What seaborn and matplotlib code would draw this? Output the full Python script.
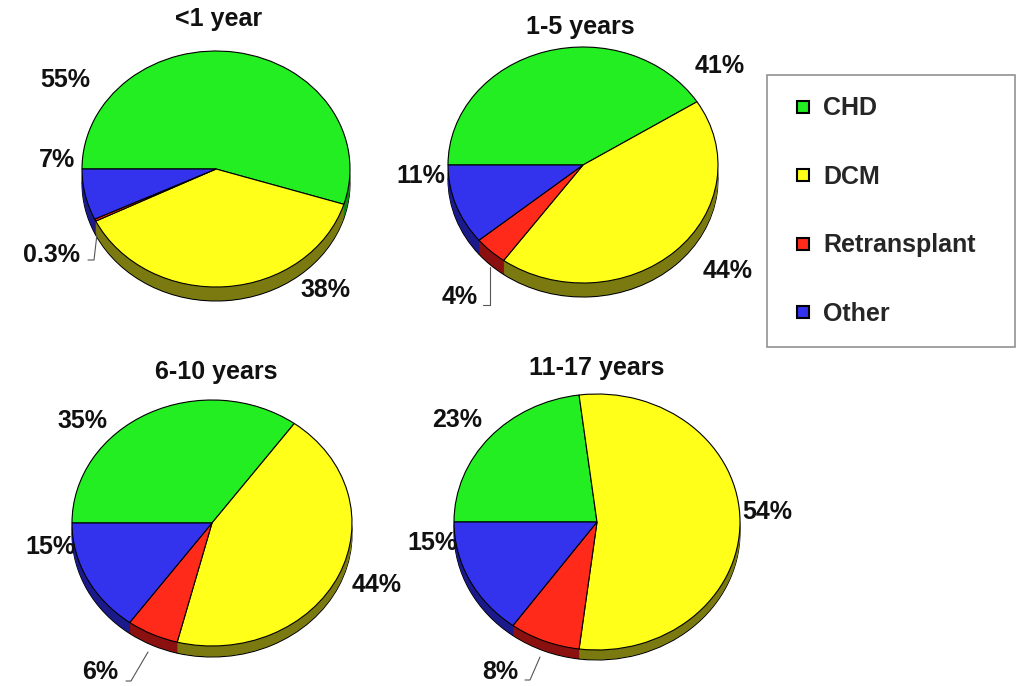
import matplotlib.pyplot as plt
import numpy as np
import seaborn as sns
from matplotlib.lines import Line2D

# Causes of paediatric heart transplant, by age group (percent of cases)
CAUSES = ["CHD", "DCM", "Retransplant", "Other"]
AGE_GROUPS = ["<1 year", "1-5 years", "6-10 years", "11-17 years"]
SHARE_LT1 = [55, 38, 0.3, 7]
SHARE_1_5 = [41, 44, 4, 11]
SHARE_6_10 = [35, 44, 6, 15]
SHARE_11_17 = [23, 54, 8, 15]

TOP_COLORS = ["#22ee22", "#ffff1a", "#ff2a1a", "#3333ee"]
SIDE_COLORS = ["#118811", "#7a7a10", "#8b1010", "#1a1a8b"]

W, H = 1020, 686

# layout in pixels: centre x, centre y, radius x, radius y, depth
PIE_BOXES = [
    (216, 169, 134, 118, 14),
    (583, 165, 135, 118, 14),
    (212, 523, 140, 123, 11),
    (597, 522, 143, 128, 10),
]
TITLE_POS = [(219, 19), (580, 27), (216, 372), (597, 368)]
# label positions (pixels), in the order of CAUSES
LABEL_POS = [
    [(65, 80), (325, 290), (52, 255), (57, 160)],
    [(720, 66), (728, 271), (460, 297), (421, 176)],
    [(82, 421), (377, 585), (100, 672), (50, 547)],
    [(457, 420), (767, 512), (500, 672), (432, 543)],
]
# leader lines for the thin slices
LEADERS = [
    [(88, 260), (94, 260), (97, 234)],
    [(483, 305), (490, 305), (490, 267)],
    [(126, 681), (131, 681), (148, 652)],
    [(525, 680), (530, 680), (540, 657)],
]

sns.set_theme(style="white")
plt.rcParams["font.family"] = ["Liberation Sans", "DejaVu Sans"]
FS = 18

fig = plt.figure(figsize=(W / 100, H / 100), dpi=100)
fig.patch.set_facecolor("white")


def pie_axes(cx, cy, rx, ry, depth):
    d = depth / ry
    top_px = cy - 1.02 * ry
    bot_px = cy + (1 + d + 0.02) * ry
    ax = fig.add_axes([(cx - 1.02 * rx) / W, 1 - bot_px / H,
                       2.04 * rx / W, (bot_px - top_px) / H])
    return ax, d


def draw_pie(ax, values, d):
    kw = dict(startangle=180, counterclock=False, normalize=True)
    # side wall: stacked, darker copies of the pie
    ax.pie(values, colors=SIDE_COLORS, center=(0, -d),
           wedgeprops=dict(edgecolor="black", linewidth=0.8), **kw)
    for k in np.linspace(d, 0, 18)[1:-1]:
        ax.pie(values, colors=SIDE_COLORS, center=(0, -k),
               wedgeprops=dict(linewidth=0), **kw)
    ax.pie(values, colors=TOP_COLORS,
           wedgeprops=dict(edgecolor="black", linewidth=0.8), **kw)
    ax.set_aspect("auto")
    ax.set_xlim(-1.02, 1.02)
    ax.set_ylim(-1 - d - 0.02, 1.02)
    ax.axis("off")


shares = [SHARE_LT1, SHARE_1_5, SHARE_6_10, SHARE_11_17]
for values, box in zip(shares, PIE_BOXES):
    ax, d = pie_axes(*box)
    draw_pie(ax, values, d)

# overlay in pixel coordinates for titles, labels, leader lines
ov = fig.add_axes([0, 0, 1, 1])
ov.set_xlim(0, W)
ov.set_ylim(H, 0)
ov.axis("off")

for title, (tx, ty) in zip(AGE_GROUPS, TITLE_POS):
    ov.text(tx, ty, title, ha="center", va="center",
            fontsize=FS, fontweight="bold", color="#111111")

for values, positions in zip(shares, LABEL_POS):
    for v, (lx, ly) in zip(values, positions):
        ov.text(lx, ly, f"{v:g}%", ha="center", va="center",
                fontsize=FS, fontweight="bold", color="#111111")

for pts in LEADERS:
    xs, ys = zip(*pts)
    ov.plot(xs, ys, color="#555555", linewidth=0.8)

handles = [
    Line2D([], [], linestyle="none", marker="s", markersize=8.5,
           markerfacecolor=c, markeredgecolor="black", markeredgewidth=1.5)
    for c in TOP_COLORS
]
leg = fig.legend(
    handles, CAUSES,
    loc="upper left",
    bbox_to_anchor=(767 / W, 1 - 75 / H - 0.01, 248 / W, 0.01),
    mode="expand",
    borderaxespad=0,
    frameon=True,
    fancybox=False,
    edgecolor="#777777",
    handlelength=1.2,
    handletextpad=0.2,
    labelspacing=1.78,
    borderpad=0.85,
    prop=dict(weight="bold", size=FS),
)
leg.get_frame().set_linewidth(1.2)

fig.savefig("out.png", dpi=100, facecolor="white")
